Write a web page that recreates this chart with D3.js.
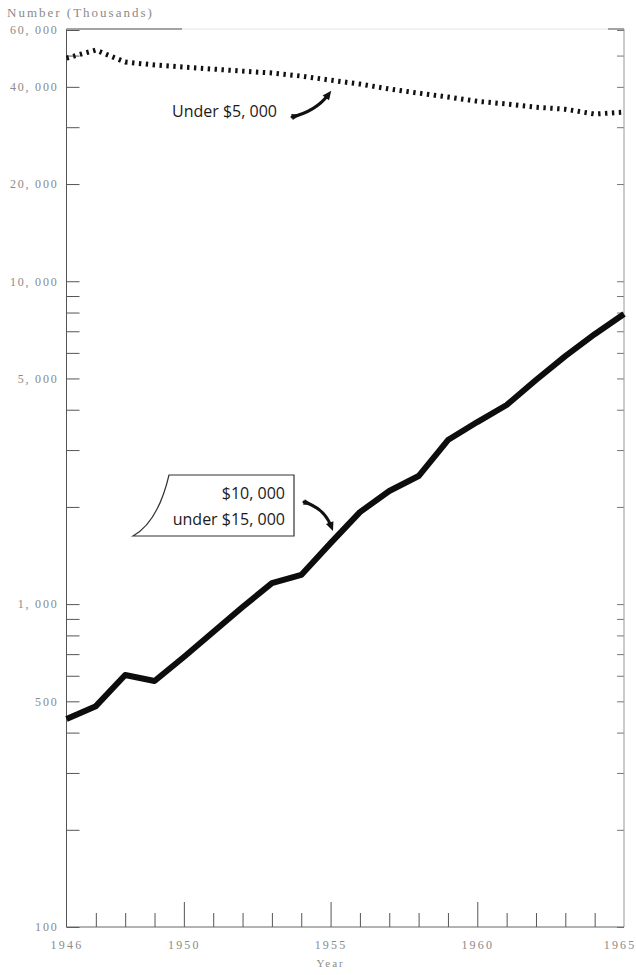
<!DOCTYPE html>
<html>
<head>
<meta charset="utf-8">
<script src="https://cdn.jsdelivr.net/npm/d3@7"></script>
<style>
  html, body { margin: 0; padding: 0; background: #fff; }
  svg { display: block; }
  .axis-label { font-family: "Liberation Serif", serif; fill: #8a8a8a; }
  .note { font-family: "Open Sans", sans-serif; fill: #1b1b1b; }
</style>
</head>
<body>
<svg id="chart" width="636" height="975"></svg>
<script>
// Families by income class, 1946–1965 (number in thousands, log scale)
const years = [1946, 1947, 1948, 1949, 1950, 1951, 1952, 1953, 1954, 1955,
               1956, 1957, 1958, 1959, 1960, 1961, 1962, 1963, 1964, 1965];
const under5000 = [49100, 52000, 47750, 46750, 46050, 45400, 44750, 44150, 43200, 41950,
                   40800, 39400, 38250, 37200, 36100, 35400, 34600, 34100, 32950, 33400];
const from10to15 = [441, 483, 603, 578, 686, 820, 980, 1162, 1231, 1545,
                    1928, 2240, 2493, 3222, 3664, 4137, 4945, 5863, 6856, 7914];

const yTickValues = [60000, 50000, 40000, 30000, 20000,
                     10000, 9000, 8000, 7000, 6000, 5000, 4000, 3000, 2000,
                     1000, 900, 800, 700, 600, 500, 400, 300, 200, 100];
const yLabelValues = [60000, 40000, 20000, 10000, 5000, 1000, 500, 100];
const xLabelYears = [1946, 1950, 1955, 1960, 1965];
const xMajorYears = [1950, 1955, 1960];

const svg = d3.select("#chart");
const plotLeft = 66.5, plotRight = 624, plotTop = 29, plotBottom = 927;

const x = d3.scaleLinear().domain([1946, 1965]).range([plotLeft, plotRight]);
const y = d3.scaleLog().domain([100, 60000]).range([plotBottom, 30]);

const fmt = d3.format(",");
const label = v => fmt(v).replace(",", ", ");

// Left axis: ticks point into the plot
const yAxisLeft = d3.axisLeft(y)
  .tickValues(yTickValues)
  .tickSize(-13)
  .tickPadding(8)
  .tickFormat(v => yLabelValues.includes(v) ? label(v) : "");
const gL = svg.append("g").attr("transform", `translate(${plotLeft},0)`).call(yAxisLeft);
gL.select(".domain").remove();
gL.selectAll(".tick line").attr("stroke", "#555");
gL.selectAll(".tick text")
  .attr("class", "axis-label")
  .attr("font-size", 12)
  .attr("letter-spacing", 1.8)
  .attr("fill", "#8a8a8a");

// Right axis: short inward ticks
const yAxisRight = d3.axisRight(y).tickValues(yTickValues).tickSize(-7).tickFormat("");
const gR = svg.append("g").attr("transform", `translate(${plotRight},0)`).call(yAxisRight);
gR.select(".domain").remove();
gR.selectAll(".tick line").attr("stroke", "#777");

// Bottom axis: yearly ticks pointing up, longer at 1950/1955/1960
const xAxis = d3.axisBottom(x)
  .tickValues(years)
  .tickSize(0)
  .tickPadding(13)
  .tickFormat(v => xLabelYears.includes(v) ? String(v) : "");
const gB = svg.append("g").attr("transform", `translate(0,${plotBottom})`).call(xAxis);
gB.select(".domain").remove();
gB.selectAll(".tick line")
  .attr("stroke", "#555")
  .attr("y2", d => (d === 1946 || d === 1965) ? 0 : (xMajorYears.includes(d) ? -25 : -14));
gB.selectAll(".tick text")
  .attr("class", "axis-label")
  .attr("font-size", 12)
  .attr("letter-spacing", 2.2)
  .attr("fill", "#8a8a8a");
// keep the last year label inside the page edge
gB.selectAll(".tick text")
  .filter(d => d === 1965)
  .attr("text-anchor", "end")
  .attr("x", 636 - plotRight - x(1965) + plotRight);

// Frame
const frame = svg.append("g").attr("fill", "none");
frame.append("line").attr("x1", plotLeft).attr("x2", plotLeft).attr("y1", plotTop).attr("y2", plotBottom).attr("stroke", "#555");
frame.append("line").attr("x1", plotRight).attr("x2", plotRight).attr("y1", plotTop).attr("y2", plotBottom).attr("stroke", "#999");
frame.append("line").attr("x1", plotLeft).attr("x2", plotRight).attr("y1", plotBottom).attr("y2", plotBottom).attr("stroke", "#666");
frame.append("line").attr("x1", plotLeft).attr("x2", plotRight).attr("y1", plotTop).attr("y2", plotTop).attr("stroke", "#e6e6e6");
frame.append("line").attr("x1", plotLeft).attr("x2", 182).attr("y1", plotTop).attr("y2", plotTop).attr("stroke", "#555");
frame.append("line").attr("x1", 608).attr("x2", plotRight).attr("y1", plotTop).attr("y2", plotTop).attr("stroke", "#555");

// Axis titles
svg.append("text").attr("class", "axis-label")
  .attr("x", 7).attr("y", 17)
  .attr("font-size", 13).attr("letter-spacing", 2)
  .text("Number (Thousands)");
svg.append("text").attr("class", "axis-label")
  .attr("x", x(1955)).attr("y", 967)
  .attr("text-anchor", "middle")
  .attr("font-size", 11).attr("letter-spacing", 2)
  .attr("fill", "#a8a8a8")
  .text("Year");

// Series
const line = d3.line().x((d, i) => x(years[i])).y(d => y(d));

svg.append("path")
  .datum(under5000)
  .attr("d", line)
  .attr("fill", "none")
  .attr("stroke", "#111")
  .attr("stroke-width", 5)
  .attr("stroke-dasharray", "2.4 4.5");

svg.append("path")
  .datum(from10to15)
  .attr("d", line)
  .attr("fill", "none")
  .attr("stroke", "#0d0d0d")
  .attr("stroke-width", 6)
  .attr("stroke-linejoin", "round");

// Annotation: Under $5,000
svg.append("text").attr("class", "note")
  .attr("x", 172).attr("y", 117)
  .attr("font-size", 16)
  .text("Under $5, 000");

function arrow(tail, ctrl, tip, headLen, headW) {
  const g = svg.append("g");
  g.append("path")
    .attr("d", `M${tail[0]},${tail[1]} Q${ctrl[0]},${ctrl[1]} ${tip[0]},${tip[1]}`)
    .attr("fill", "none").attr("stroke", "#111").attr("stroke-width", 3).attr("stroke-linecap", "round");
  const ang = Math.atan2(tip[1] - ctrl[1], tip[0] - ctrl[0]);
  const ex = tip[0] + Math.cos(ang) * headLen * 0.6, ey = tip[1] + Math.sin(ang) * headLen * 0.6;
  const bx = ex - Math.cos(ang) * headLen, by = ey - Math.sin(ang) * headLen;
  const px = -Math.sin(ang) * headW, py = Math.cos(ang) * headW;
  g.append("path")
    .attr("d", `M${ex},${ey} L${bx + px},${by + py} L${bx - px},${by - py} Z`)
    .attr("fill", "#111");
  // flared tail
  const tang = Math.atan2(ctrl[1] - tail[1], ctrl[0] - tail[0]);
  const tx = -Math.sin(tang) * 3, ty = Math.cos(tang) * 3;
  g.append("path")
    .attr("d", `M${tail[0] + tx},${tail[1] + ty} L${tail[0] - tx},${tail[1] - ty} L${tail[0] + Math.cos(tang) * 9},${tail[1] + Math.sin(tang) * 9} Z`)
    .attr("fill", "#111");
}
arrow([292, 117], [316, 111], [328, 95], 9, 4);

// Annotation box: $10,000 under $15,000
svg.append("path")
  .attr("d", "M169,475 L294,475 L294,536 L133,536 Q158,522 169,475 Z")
  .attr("fill", "#fff")
  .attr("stroke", "#333")
  .attr("stroke-width", 1.2);
svg.append("text").attr("class", "note")
  .attr("x", 285).attr("y", 499)
  .attr("text-anchor", "end")
  .attr("font-size", 16)
  .text("$10, 000");
svg.append("text").attr("class", "note")
  .attr("x", 285).attr("y", 525)
  .attr("text-anchor", "end")
  .attr("font-size", 16)
  .text("under $15, 000");
arrow([304, 502], [324, 508], [331, 526], 9, 4);
</script>
</body>
</html>
